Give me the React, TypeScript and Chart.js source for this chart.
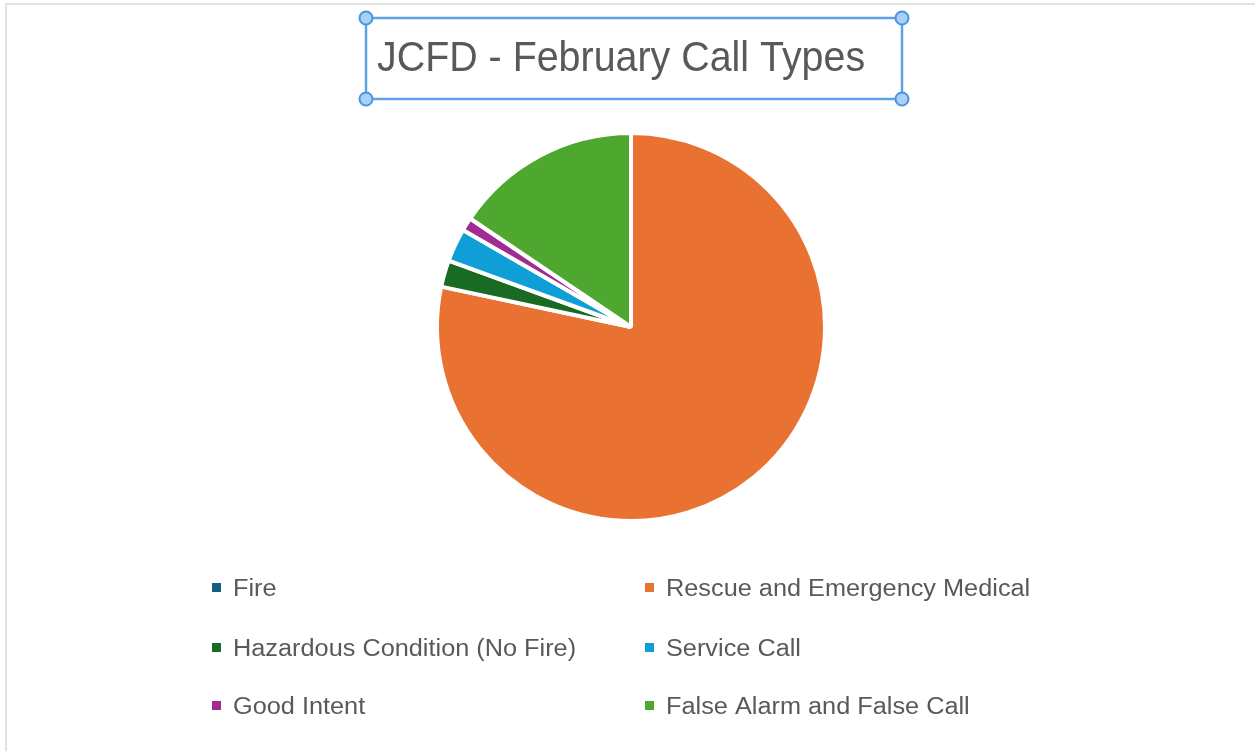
import React, { useEffect, useRef } from "react";
import { Chart, registerables } from "chart.js";

Chart.register(...registerables);

const categories = [
  "Fire",
  "Rescue and Emergency Medical",
  "Hazardous Condition (No Fire)",
  "Service Call",
  "Good Intent",
  "False Alarm and False Call",
];
const callCounts = [0, 141, 4, 5, 2, 28];
const sliceColors = ["#156082", "#E97132", "#196B24", "#0F9ED5", "#A02B93", "#4EA72E"];
const titleText = "JCFD - February Call Types";

const TEXT_COLOR = "#595959";
const FONT = '"Liberation Sans", Arial, sans-serif';

const decorPlugin = {
  id: "decor",
  afterDraw(chart: any) {
    const ctx = chart.ctx as CanvasRenderingContext2D;
    ctx.save();
    // outer frame
    ctx.strokeStyle = "#e2e2e2";
    ctx.lineWidth = 2;
    ctx.beginPath();
    ctx.moveTo(6, 760);
    ctx.lineTo(6, 4);
    ctx.lineTo(1255, 4);
    ctx.stroke();

    // title selection box
    ctx.strokeStyle = "#5EA3E6";
    ctx.lineWidth = 2.5;
    ctx.strokeRect(366, 18, 536, 81);
    const corners = [
      [366, 18],
      [902, 18],
      [366, 99],
      [902, 99],
    ];
    for (const [cx, cy] of corners) {
      ctx.beginPath();
      ctx.arc(cx, cy, 6.5, 0, Math.PI * 2);
      ctx.fillStyle = "#A9D1F7";
      ctx.fill();
      ctx.lineWidth = 2;
      ctx.strokeStyle = "#4A94DD";
      ctx.stroke();
    }

    // title text
    ctx.fillStyle = TEXT_COLOR;
    ctx.font = `39px ${FONT}`;
    ctx.textBaseline = "alphabetic";
    ctx.textAlign = "left";
    ctx.save();
    ctx.translate(377, 71);
    ctx.scale(1.01, 1.1);
    ctx.fillText(titleText, 0, 0);
    ctx.restore();

    // legend (2 columns, 3 rows)
    const labels = chart.data.labels as string[];
    const colors = chart.data.datasets[0].backgroundColor as string[];
    const colX = [212, 645];
    const rowBase = [596, 656, 714];
    labels.forEach((lab, i) => {
      const col = i % 2;
      const row = Math.floor(i / 2);
      const x = colX[col];
      const y = rowBase[row];
      ctx.fillStyle = colors[i];
      ctx.fillRect(x, y - 13, 9, 9);
      ctx.fillStyle = TEXT_COLOR;
      ctx.font = `23px ${FONT}`;
      ctx.save();
      ctx.translate(x + 21, y);
      ctx.scale(1.1, 1);
      ctx.fillText(lab, 0, 0);
      ctx.restore();
    });
    ctx.restore();
  },
};

export default function App() {
  const ref = useRef<HTMLCanvasElement | null>(null);
  useEffect(() => {
    if (!ref.current) return;
    const chart = new Chart(ref.current, {
      type: "pie",
      data: {
        labels: categories,
        datasets: [
          {
            data: callCounts,
            backgroundColor: sliceColors,
            borderColor: "#ffffff",
            borderWidth: 4,
          },
        ],
      },
      options: {
        responsive: false,
        animation: false,
        layout: { padding: { left: 435, right: 429, top: 131, bottom: 228 } },
        plugins: {
          legend: { display: false },
          title: { display: false },
          tooltip: { enabled: false },
        },
      },
      plugins: [decorPlugin],
    });
    return () => chart.destroy();
  }, []);
  return (
    <div style={{ position: "fixed", left: 0, top: 0, width: 1256, height: 751, background: "#fff" }}>
      <canvas ref={ref} width={1256} height={751} style={{ display: "block" }} />
    </div>
  );
}
